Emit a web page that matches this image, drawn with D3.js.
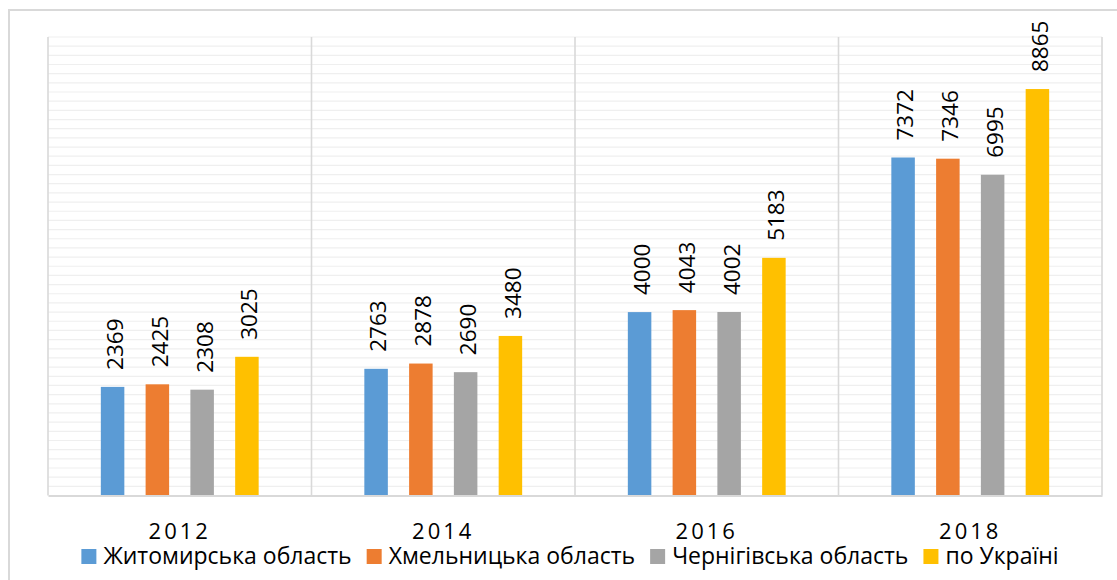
<!DOCTYPE html>
<html>
<head>
<meta charset="utf-8">
<script src="https://cdn.jsdelivr.net/npm/d3@7/dist/d3.min.js"></script>
<style>
  body { margin: 0; background: #fff; }
  svg { display: block; font-family: "Open Sans", "DejaVu Sans", sans-serif; }
</style>
</head>
<body>
<svg class="chart"></svg>
<script>
// chart dimensions
var width = 1117;
var height = 580;
var margin = {top: 37, right: 15, bottom: 84.5, left: 48};
var w = width - margin.left - margin.right;
var h = height - margin.top - margin.bottom;

// data
var years = ["2012", "2014", "2016", "2018"];
var series = ["Житомирська область", "Хмельницька область", "Чернігівська область", "по Україні"];
var colors = ["#5b9bd5", "#ed7d31", "#a5a5a5", "#ffc000"];
var zhytomyr = [2369, 2763, 4000, 7372];
var khmelnytskyi = [2425, 2878, 4043, 7346];
var chernihiv = [2308, 2690, 4002, 6995];
var ukraine = [3025, 3480, 5183, 8865];
var yMax = 10000;
var gridStep = 200;

var values = [zhytomyr, khmelnytskyi, chernihiv, ukraine];
var dataset = [];
years.forEach(function(yr, i) {
    series.forEach(function(s, j) {
        dataset.push({year: yr, series: s, idx: j, value: values[j][i]});
    });
});

var svg = d3.select(".chart")
    .attr("width", width)
    .attr("height", height);

// outer frame (cut off at right and bottom like the source)
svg.append("rect")
    .attr("x", 9).attr("y", 10)
    .attr("width", width + 20).attr("height", height + 20)
    .style("fill", "none")
    .style("stroke", "#d9d9d9")
    .style("stroke-width", 2);

var chart = svg.append("g")
    .attr("transform", "translate(" + margin.left + "," + margin.top + ")");

var x = d3.scaleBand()
    .domain(years)
    .range([0, w])
    .padding(0);

var xi = d3.scaleBand()
    .domain(series)
    .range([0, x.bandwidth()])
    .paddingInner(0.475)
    .paddingOuter(1.18);

var y = d3.scaleLinear()
    .domain([0, yMax])
    .range([h, 0]);

// horizontal gridlines
chart.append("g")
    .selectAll("line")
    .data(d3.range(gridStep, yMax + 1, gridStep))
    .enter().append("line")
    .attr("x1", 0).attr("x2", w)
    .attr("y1", function(d) { return y(d); })
    .attr("y2", function(d) { return y(d); })
    .style("stroke", "#efefef")
    .style("stroke-width", 1.2);

// vertical category separators
chart.append("g")
    .selectAll("line")
    .data(years.concat(["end"]))
    .enter().append("line")
    .attr("x1", function(d, i) { return i < years.length ? x(d) : w; })
    .attr("x2", function(d, i) { return i < years.length ? x(d) : w; })
    .attr("y1", 0).attr("y2", h)
    .style("stroke", "#d9d9d9")
    .style("stroke-width", 1.6);

// bars
chart.append("g")
    .selectAll("rect")
    .data(dataset)
    .enter().append("rect")
    .attr("x", function(d) { return x(d.year) + xi(d.series); })
    .attr("y", function(d) { return y(d.value); })
    .attr("width", xi.bandwidth())
    .attr("height", function(d) { return h - y(d.value); })
    .style("fill", function(d) { return colors[d.idx]; });

// value labels
chart.append("g")
    .selectAll("text")
    .data(dataset)
    .enter().append("text")
    .attr("transform", function(d) {
        var cx = x(d.year) + xi(d.series) + xi.bandwidth() / 2 + 2.5;
        return "translate(" + cx + "," + (y(d.value) - 17) + ") rotate(-90)";
    })
    .attr("dy", "0.35em")
    .style("font-size", "22.5px")
    .style("fill", "#000")
    .text(function(d) { return d.value; });

// x axis
var xAxis = d3.axisBottom(x).tickSize(0).tickPadding(0);
var gx = chart.append("g")
    .attr("transform", "translate(0," + h + ")")
    .call(xAxis);
gx.select(".domain")
    .attr("stroke", "#d9d9d9")
    .attr("stroke-width", 2);
gx.selectAll("text")
    .attr("dy", null)
    .attr("y", 43.5)
    .style("font-family", "\"Open Sans\", sans-serif")
    .style("font-size", "22px")
    .style("letter-spacing", "3px")
    .style("fill", "#000");

// legend
var legend = svg.append("g");
var items = legend.selectAll("g")
    .data(series)
    .enter().append("g");
items.append("rect")
    .attr("width", 15).attr("height", 15)
    .attr("y", 549)
    .style("fill", function(d, i) { return colors[i]; });
items.append("text")
    .attr("x", 22)
    .attr("y", 564)
    .style("font-size", "23px")
    .style("fill", "#000")
    .text(function(d) { return d; });

var offs = [];
var total = 0;
items.each(function(d, i) {
    var tw = d3.select(this).select("text").node().getComputedTextLength();
    offs.push(total);
    total += 22 + tw + (i < series.length - 1 ? 15 : 0);
});
var startX = 570 - total / 2;
items.attr("transform", function(d, i) { return "translate(" + (startX + offs[i]) + ",0)"; });
</script>
</body>
</html>
